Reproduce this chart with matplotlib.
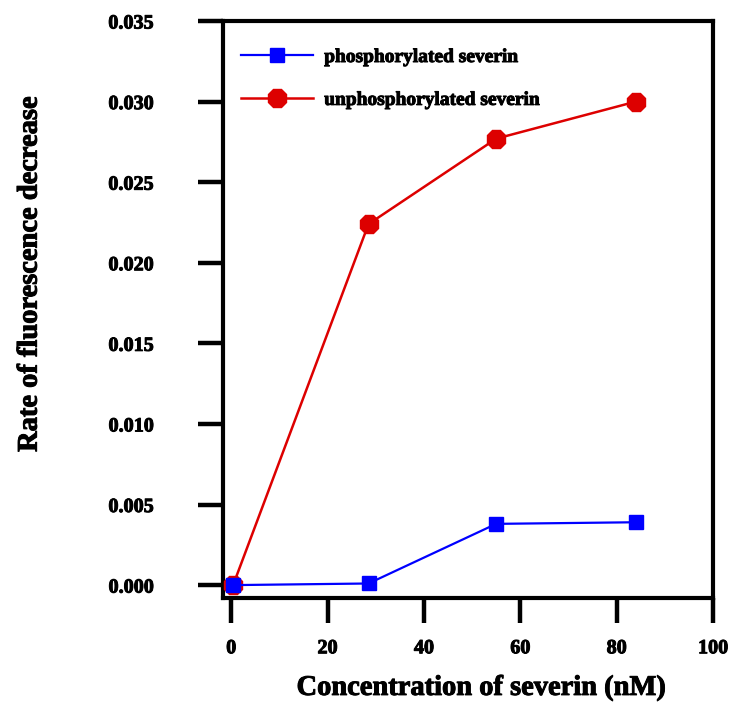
import matplotlib
matplotlib.use("Agg")
import matplotlib.pyplot as plt
import matplotlib.patheffects as pe

# data
conc = [0.4, 28.5, 55.0, 84.0]
phos = [0.0, 0.0001, 0.0038, 0.0039]
unphos = [0.0, 0.0224, 0.0277, 0.0300]

x_ticks = [0, 20, 40, 60, 80, 100]
y_ticks = [0.000, 0.005, 0.010, 0.015, 0.020, 0.025, 0.030, 0.035]

plt.rcParams['font.family'] = ['Liberation Serif', 'DejaVu Serif']
plt.rcParams['font.weight'] = 'bold'

# a little stroke makes the bold serif look as heavy as in the original
heavy = [pe.withStroke(linewidth=0.7, foreground='black')]

fig = plt.figure(figsize=(7.3, 7.09), dpi=100)
ax = fig.add_axes([223 / 730, 1 - 598 / 709, 490 / 730, 577 / 709])

ax.plot(conc, phos, color='#0000ff', lw=1.6, marker='s', ms=9.5,
        label='phosphorylated severin', zorder=4)
ax.plot(conc, unphos, color='#dd0000', lw=1.8, marker='8', ms=13.5,
        label='unphosphorylated severin', zorder=3)

ax.set_xlim(-1.7, 100)
ax.set_ylim(-0.0008, 0.035)
ax.set_xticks(x_ticks)
ax.set_yticks(y_ticks)
ax.set_yticklabels([f"{v:.3f}" for v in y_ticks])

for s in ax.spines.values():
    s.set_linewidth(3)
ax.tick_params(axis='both', direction='out', width=3.2, length=18,
               labelsize=14.5)
ax.tick_params(axis='y', pad=32)
ax.tick_params(axis='x', pad=11)
for lbl in ax.get_xticklabels() + ax.get_yticklabels():
    lbl.set_path_effects(heavy)

xl = ax.set_xlabel('Concentration of severin (nM)', fontsize=20.5, fontweight='bold')
yl = ax.set_ylabel('Rate of fluorescence decrease', fontsize=20.5, fontweight='bold')
xl.set_path_effects(heavy)
yl.set_path_effects(heavy)
ax.xaxis.set_label_coords(0.527, -0.135)
ax.yaxis.set_label_coords(-0.368, 0.562)

leg = ax.legend(loc='upper left', bbox_to_anchor=(0.02, 0.966), frameon=False,
                fontsize=14, handlelength=3.7, handletextpad=0.6,
                labelspacing=1.3, borderaxespad=0)
for t in leg.get_texts():
    t.set_path_effects(heavy)

fig.savefig('out.png', dpi=100)
